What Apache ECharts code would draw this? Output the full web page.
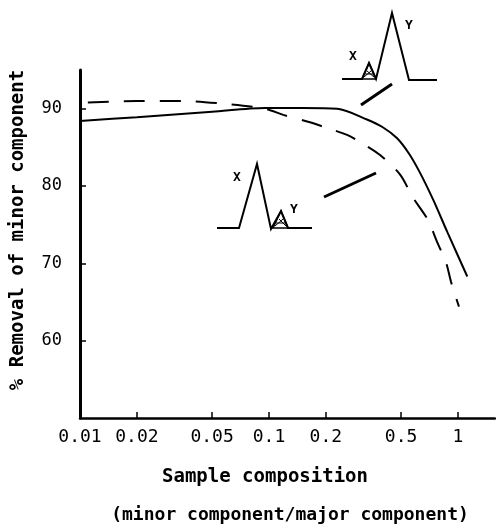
<!DOCTYPE html>
<html>
<head>
<meta charset="utf-8">
<script src="https://cdn.jsdelivr.net/npm/echarts@6/dist/echarts.min.js"></script>
<style>html,body{margin:0;padding:0;background:#fff}#c{width:496px;height:524px}</style>
</head>
<body>
<div id="c"></div>
<script>
// Data (x = sample composition ratio, y = % removal)
var solidX = [0.01, 0.02, 0.05, 0.095, 0.15, 0.23, 0.33, 0.4, 0.475, 0.55, 0.63, 0.74, 0.88, 1.12];
var solidY = [88.4, 88.9, 89.6, 90.1, 90.1, 90.0, 88.6, 87.6, 86.2, 84.2, 81.7, 78.2, 74.0, 68.3];
var dashX = [0.011, 0.02, 0.035, 0.054, 0.095, 0.119, 0.161, 0.203, 0.259, 0.322, 0.387, 0.493, 0.578, 0.694, 0.774, 0.865, 0.919, 1.012];
var dashY = [90.8, 91.0, 91.0, 90.7, 90.0, 89.2, 88.3, 87.5, 86.6, 85.3, 84.0, 81.5, 78.5, 75.6, 72.8, 70.1, 67.6, 64.4];
var xTicks = [0.01, 0.02, 0.05, 0.1, 0.2, 0.5, 1];
var xTickLabels = ['0.01', '0.02', '0.05', '0.1', '0.2', '0.5', '1'];
var yTicks = [60, 70, 80, 90];
var xMin = 0.01, xMax = 1.57, yMin = 50, yMax = 95;

function lg(v) { return Math.log10(v); }
function pairs(xs, ys) { return xs.map(function (x, i) { return [lg(x), ys[i]]; }); }
var xTickLogs = xTicks.map(lg);

var FONT = 'DejaVu Sans Mono';
var chart = echarts.init(document.getElementById('c'));

function hatch(x0, y0, xa, ya, x1) {
  return [
    { type: 'polygon', shape: { points: [[x0, y0], [xa, ya], [x1, y0]] }, style: { fill: 'none', stroke: '#000', lineWidth: 1.5 } },
    { type: 'line', shape: { x1: x0 + 2, y1: y0 - 2, x2: xa + 2, y2: ya + 8 }, style: { stroke: '#000', lineWidth: 1 } },
    { type: 'line', shape: { x1: x1 - 2, y1: y0 - 2, x2: xa - 2, y2: ya + 8 }, style: { stroke: '#000', lineWidth: 1 } },
    { type: 'line', shape: { x1: x0 + 3, y1: y0 - 5, x2: x1 - 2, y2: y0 - 5 }, style: { stroke: '#000', lineWidth: 1 } }
  ];
}

var graphics = [
  { type: 'text', x: 18, y: 230, rotation: Math.PI / 2, style: { text: '% Removal of minor component', font: 'bold 19px ' + FONT, fill: '#000', align: 'center', verticalAlign: 'middle' } },
  { type: 'text', x: 265, y: 477, style: { text: 'Sample composition', font: 'bold 19px ' + FONT, fill: '#000', align: 'center', verticalAlign: 'middle' } },
  { type: 'text', x: 290, y: 515, style: { text: '(minor component/major component)', font: 'bold 18px ' + FONT, fill: '#000', align: 'center', verticalAlign: 'middle' } },
  // peak sketch 1 (top right)
  { type: 'polyline', shape: { points: [[342, 79], [362, 79], [369, 63], [376, 79], [392, 13], [409, 80], [437, 80]] }, style: { stroke: '#000', lineWidth: 2, fill: 'none' } },
  { type: 'text', x: 353, y: 57, style: { text: 'X', font: 'bold 13px ' + FONT, fill: '#000', align: 'center', verticalAlign: 'middle' } },
  { type: 'text', x: 409, y: 26, style: { text: 'Y', font: 'bold 13px ' + FONT, fill: '#000', align: 'center', verticalAlign: 'middle' } },
  { type: 'line', shape: { x1: 361, y1: 105, x2: 392, y2: 84 }, style: { stroke: '#000', lineWidth: 3 } },
  // peak sketch 2 (middle)
  { type: 'polyline', shape: { points: [[217, 228], [239, 228], [257, 164], [271, 229], [281, 211], [288, 228], [312, 228]] }, style: { stroke: '#000', lineWidth: 2, fill: 'none' } },
  { type: 'text', x: 237, y: 178, style: { text: 'X', font: 'bold 13px ' + FONT, fill: '#000', align: 'center', verticalAlign: 'middle' } },
  { type: 'text', x: 294, y: 210, style: { text: 'Y', font: 'bold 13px ' + FONT, fill: '#000', align: 'center', verticalAlign: 'middle' } },
  { type: 'line', shape: { x1: 324, y1: 197, x2: 376, y2: 173 }, style: { stroke: '#000', lineWidth: 3 } }
].concat(hatch(362, 79, 369, 63, 376)).concat(hatch(273, 228, 281, 211, 288));

chart.setOption({
  animation: false,
  backgroundColor: '#fff',
  grid: { left: 80, top: 70, right: 1, bottom: 106, containLabel: false },
  xAxis: {
    type: 'value', min: lg(xMin), max: lg(xMax),
    splitLine: { show: false },
    axisLine: { show: true, onZero: false, lineStyle: { color: '#000', width: 2.5 } },
    axisTick: { show: true, inside: true, length: 6, customValues: xTickLogs, lineStyle: { color: '#000', width: 1.5 } },
    axisLabel: {
      customValues: xTickLogs, margin: 10, color: '#000', fontFamily: FONT, fontSize: 18,
      formatter: function (v) {
        var best = 0, d = Infinity;
        xTickLogs.forEach(function (t, i) { if (Math.abs(t - v) < d) { d = Math.abs(t - v); best = i; } });
        return xTickLabels[best];
      }
    }
  },
  yAxis: {
    type: 'value', min: yMin, max: yMax,
    splitLine: { show: false },
    axisLine: { show: true, onZero: false, lineStyle: { color: '#000', width: 3 } },
    axisTick: { show: true, inside: true, length: 6, customValues: yTicks, lineStyle: { color: '#000', width: 1.5 } },
    axisLabel: { customValues: yTicks, margin: 18, color: '#000', fontFamily: FONT, fontSize: 17 }
  },
  series: [
    { type: 'line', data: pairs(solidX, solidY), showSymbol: false, smooth: 0.3, lineStyle: { color: '#000', width: 2 } },
    { type: 'line', data: pairs(dashX, dashY), showSymbol: false, smooth: 0.3, lineStyle: { color: '#000', width: 2, type: [21, 15] } }
  ],
  graphic: graphics
});
</script>
</body>
</html>
